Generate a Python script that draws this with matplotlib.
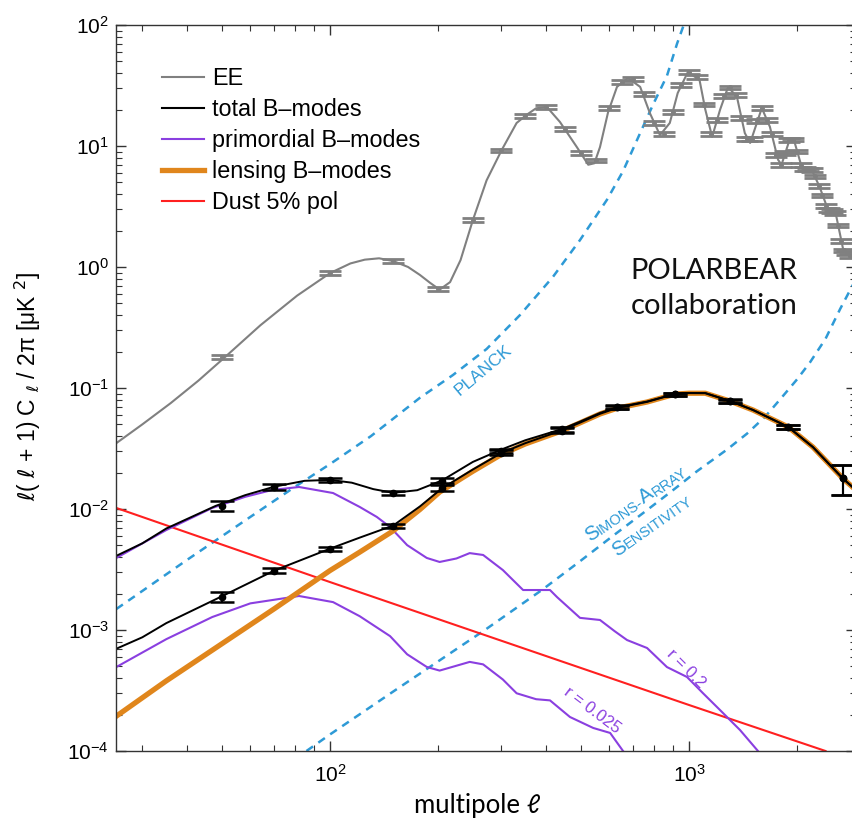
import numpy as np
import matplotlib.pyplot as plt
import matplotlib.transforms as mtransforms
from matplotlib.lines import Line2D
from matplotlib.ticker import NullFormatter, FixedLocator

plt.rcParams['font.family'] = ['Liberation Sans', 'DejaVu Sans']

# EE spectrum (smooth curve) and binned points every 50 in ell
ell_ee = [25.4, 30, 36, 43, 51, 64, 81, 100, 114, 125, 137, 150, 165, 178, 190, 202,
          216, 231, 250, 273, 301, 331, 352, 375, 402, 437, 487, 524, 545, 565, 595,
          630, 676, 731, 778, 830, 884, 930, 993, 1070, 1110, 1160, 1220, 1285, 1360,
          1430, 1480, 1545, 1595, 1680, 1770, 1810, 1910, 1960, 2060, 2200, 2310, 2440,
          2560, 2690, 2840, 2920]
ee_curve = [0.035, 0.050, 0.075, 0.115, 0.18, 0.33, 0.58, 0.89, 1.07, 1.15, 1.18, 1.12,
            1.0, 0.86, 0.74, 0.65, 0.75, 1.14, 2.44, 5.2, 9.3, 15.5, 18.0, 20.5, 21.0, 15.8,
            9.8, 7.0, 7.2, 9.8, 19, 30.8, 36.5, 30.8, 18.7, 12.3, 15.5, 27.4, 41, 35, 20,
            11.9, 19.9, 30.8, 25.4, 12.8, 10.6, 15.5, 20.6, 14.4, 7.7, 7.0, 11.5, 11.2, 6.7,
            6.3, 4.6, 2.96, 2.8, 1.38, 1.21, 1.1]
ee_bin_ell = np.arange(50, 2801, 50)
ee_bin_val = [0.18, 0.89, 1.12, 0.66, 2.44, 9.2, 17.8, 21, 13.8, 8.8, 7.6, 20.5, 34, 36,
              27, 15.5, 12.6, 19, 32, 41, 37, 22, 12.5, 16.5, 26, 30.5, 26.5, 17, 11.5,
              11.5, 16, 20.6, 16.5, 12.5, 8.4, 7.0, 8.8, 11.2, 11.3, 9.0, 7.0, 6.5, 6.4,
              6.3, 5.6, 4.7, 3.9, 3.2, 2.95, 2.9, 2.8, 2.2, 1.65, 1.37, 1.3, 1.23]

# lensing B-modes
lens_ell = [25.4, 35, 50, 70, 100, 121, 150, 178, 202, 250, 300, 350, 443, 497, 565, 630,
            764, 914, 1000, 1110, 1300, 1507, 1888, 2213, 2686, 2920]
lens = [0.000194, 0.00038, 0.00077, 0.0015, 0.0031, 0.0044, 0.0066, 0.0099, 0.0138, 0.0205,
        0.0282, 0.0345, 0.0443, 0.0515, 0.061, 0.068, 0.0766, 0.089, 0.0905, 0.0905, 0.078,
        0.0658, 0.0477, 0.0325, 0.0178, 0.0143]

# total B-modes, r = 0.2
tot_hi_ell = [25.4, 30, 35, 48, 58, 70, 85, 100, 115, 132, 150, 175, 205, 250, 300, 350,
              443, 497, 565, 630, 764, 914, 1000, 1110, 1300, 1507, 1888, 2213, 2686, 2920]
tot_hi = [0.0041, 0.0052, 0.0069, 0.0106, 0.0130, 0.0153, 0.0171, 0.0174, 0.0165, 0.0146,
          0.0136, 0.0143, 0.0172, 0.0245, 0.031, 0.037, 0.0458, 0.0527, 0.0622, 0.0692,
          0.0773, 0.0895, 0.091, 0.0908, 0.0782, 0.0659, 0.0477, 0.0325, 0.0178, 0.0143]

# total B-modes, r = 0.025
tot_lo_ell = [25.4, 30, 35, 50, 70, 100, 121, 150, 178, 205, 250, 300, 350, 443, 497, 565,
              630, 764, 914, 1000, 1110, 1300, 1507, 1888, 2213, 2686, 2920]
tot_lo = [0.0007, 0.00087, 0.00114, 0.0019, 0.0031, 0.0047, 0.0058, 0.0073, 0.0105, 0.0148,
          0.0212, 0.029, 0.035, 0.0447, 0.0517, 0.0612, 0.0684, 0.0768, 0.0892, 0.0907,
          0.0906, 0.0781, 0.0658, 0.0477, 0.0325, 0.0178, 0.0143]

# binned B-mode points
bb_bin_ell = [50, 70, 100, 150, 205, 300, 443, 630, 914, 1300, 1888, 2686]
bb_hi_val = [0.0106, 0.0152, 0.0174, 0.0136, 0.0172, 0.0300, 0.0455, 0.0697, 0.0891, 0.0782,
             0.0477, 0.018]
bb_lo_val = [0.00188, 0.0031, 0.0047, 0.0072, 0.0149, 0.0293, 0.0445, 0.0690, 0.0889, 0.078,
             0.0477, 0.018]
bb_err_frac = [0.09, 0.05, 0.04, 0.04, 0.05, 0.04, 0.04, 0.03, 0.03, 0.03, 0.04, 0.28]

# primordial B-modes
r02_ell = [25.4, 35, 47, 58, 69, 82, 102, 121, 135, 147, 164, 186, 202, 225, 245, 267, 303,
           345, 375, 410, 429, 497, 565, 620, 672, 764, 868, 987, 1093, 1220, 1387, 1556, 1700]
r02 = [0.00394, 0.0067, 0.0102, 0.0126, 0.01436, 0.0152, 0.01355, 0.0104, 0.0086, 0.0071,
       0.00503, 0.00394, 0.00365, 0.0039, 0.00432, 0.00417, 0.00313, 0.00214, 0.00214,
       0.00214, 0.00187, 0.00126, 0.00121, 0.00098, 0.000826, 0.00071, 0.000494, 0.000409,
       0.000301, 0.000218, 0.000149, 0.0001, 0.00007]
r0025_ell = [25.4, 35, 47, 60, 82, 102, 121, 147, 164, 186, 202, 245, 267, 303, 331, 375,
             410, 466, 541, 603, 655, 700]
r0025 = [0.000494, 0.00084, 0.00128, 0.00166, 0.00191, 0.0017, 0.0013, 0.00089, 0.00063,
         0.000495, 0.000462, 0.000545, 0.00052, 0.00039, 0.0003, 0.000268, 0.000262,
         0.000191, 0.000155, 0.000141, 0.0001, 0.00008]

# dust foreground
dust_ell = [25.4, 100, 1000, 2400]
dust = [0.0102, 0.00249, 0.00024, 0.0001]

# instrument noise curves
planck_ell = [25.4, 40, 60, 80, 100, 130, 178, 220, 273, 338, 418, 497, 591, 655, 731, 794,
              868, 926, 994, 1010]
planck = [0.00149, 0.0038, 0.0086, 0.0153, 0.0235, 0.040, 0.083, 0.128, 0.21, 0.40, 0.83,
          1.67, 3.6, 6.2, 12.8, 22, 38, 70, 126, 150]
simons_ell = [86, 100, 150, 200, 270, 390, 497, 614, 764, 902, 1052, 1276, 1451, 1630, 1790,
              2000, 2173, 2400, 2636, 2920]
simons = [1.0e-4, 1.37e-4, 3.1e-4, 5.5e-4, 1.0e-3, 2.15e-3, 3.7e-3, 6.0e-3, 9.8e-3, 0.0143,
          0.0205, 0.031, 0.042, 0.058, 0.080, 0.118, 0.163, 0.255, 0.45, 0.8]

x_major = [100, 1000]
y_major = [1e-4, 1e-3, 1e-2, 1e-1, 1e0, 1e1, 1e2]

c_ee = '#808080'
c_prim = '#8A3FE0'
c_lens = '#E0861C'
c_dust = '#FF2020'
c_noise = '#2E9AD6'

fig = plt.figure(figsize=(8.52, 8.21), dpi=100)
ax = fig.add_axes([116 / 852, 70 / 821, 740 / 852, 726 / 821])
ax.set_xscale('log')
ax.set_yscale('log')
ax.set_xlim(25.35, 2918)
ax.set_ylim(1e-4, 1e2)
ax.xaxis.set_major_locator(FixedLocator(x_major))
ax.yaxis.set_major_locator(FixedLocator(y_major))

dash = (0, (3.2, 2.6))
ax.plot(planck_ell, planck, color=c_noise, lw=1.8, ls=dash)
ax.plot(simons_ell, simons, color=c_noise, lw=1.8, ls=dash)
ax.plot(dust_ell, dust, color=c_dust, lw=1.5)
ax.plot(r02_ell, r02, color=c_prim, lw=1.5)
ax.plot(r0025_ell, r0025, color=c_prim, lw=1.5)
ax.plot(lens_ell, lens, color=c_lens, lw=3.8)
ax.plot(tot_lo_ell, tot_lo, color='k', lw=1.4)
ax.plot(tot_hi_ell, tot_hi, color='k', lw=1.4)
ax.plot(ell_ee, ee_curve, color=c_ee, lw=1.5)

ee_err = 0.035 * np.array(ee_bin_val)
ax.errorbar(ee_bin_ell, ee_bin_val, yerr=ee_err, fmt='.', ms=5, color=c_ee,
            capsize=8, capthick=2.0, elinewidth=1.5)
for vals in (bb_lo_val, bb_hi_val):
    err = np.array(bb_err_frac) * np.array(vals)
    ax.errorbar(bb_bin_ell, vals, yerr=err, fmt='o', ms=4.5, color='k',
                capsize=8.5, capthick=1.8, elinewidth=1.5)

for sp in ax.spines.values():
    sp.set_color('#333333')
    sp.set_linewidth(1.0)
ax.tick_params(which='both', direction='in', top=True, right=True, colors='#333333',
               labelcolor='k', labelsize=15)
ax.tick_params(which='major', length=7, width=1.0)
ax.tick_params(which='minor', length=4, width=0.8)
ax.tick_params(axis='x', pad=9)
ax.tick_params(axis='y', pad=5)
ax.xaxis.set_minor_formatter(NullFormatter())
ax.yaxis.set_minor_formatter(NullFormatter())

fig.text(477 / 852, 1 - 805 / 821, 'multipole ℓ', ha='center', va='center',
         fontsize=18.5, family=['Lato', 'DejaVu Sans'])
fig.text(28 / 852, 1 - 386 / 821, r'$\ell$( $\ell$ + 1) C $_{\ell}$ / 2π [μK $^{2}$]',
         rotation=90, ha='center', va='center', fontsize=16.5)

handles = [Line2D([], [], color=c_ee, lw=1.5),
           Line2D([], [], color='k', lw=1.5),
           Line2D([], [], color=c_prim, lw=1.5),
           Line2D([], [], color=c_lens, lw=3.8),
           Line2D([], [], color=c_dust, lw=1.5)]
labels = ['EE', 'total B\u2013modes', 'primordial B\u2013modes', 'lensing B\u2013modes',
          'Dust 5% pol']
ax.legend(handles, labels, loc='upper left', frameon=False, fontsize=16.8,
          bbox_to_anchor=(162 / 852, 1 - 67 / 821), bbox_transform=fig.transFigure,
          borderpad=0, borderaxespad=0, handlelength=1.8, handletextpad=0.33,
          labelspacing=0.34)

ax.text(0.808, 0.661, 'POLARBEAR', transform=ax.transAxes, ha='center', va='center',
        fontsize=21, family=['Lato', 'DejaVu Sans'], color='#111111')
ax.text(0.808, 0.613, 'collaboration', transform=ax.transAxes, ha='center', va='center',
        fontsize=21, family=['Lato', 'DejaVu Sans'], color='#111111')

ax.text(267, 0.141, 'PLANCK', color=c_noise, fontsize=12.5, rotation=40,
        ha='center', va='center')
ax.text(982, 0.00048, 'r = 0.2', color=c_prim, fontsize=12, rotation=-45,
        ha='center', va='center')
ax.text(537, 0.000218, 'r = 0.025', color=c_prim, fontsize=12, rotation=-37,
        ha='center', va='center')


def small_caps(x, y, pieces, angle, color):
    # lay out mixed-size pieces along a rotated baseline, in pixel space
    renderer = fig.canvas.get_renderer()
    x0, y0 = ax.transData.transform((x, y))
    th = np.deg2rad(angle)
    d = 0.0
    for s, size in pieces:
        probe = fig.text(0.5, 0.5, s, fontsize=size)
        w = probe.get_window_extent(renderer).width
        probe.remove()
        ax.text(x0 + d * np.cos(th), y0 + d * np.sin(th), s, fontsize=size, color=color,
                rotation=angle, rotation_mode='anchor', ha='left', va='baseline',
                transform=mtransforms.IdentityTransform())
        d += w


small_caps(530, 0.0053, [('S', 14.5), ('IMONS-', 10.5), ('A', 14.5), ('RRAY', 10.5)], 35,
           c_noise)
small_caps(630, 0.0040, [('S', 14.5), ('ENSITIVITY', 10.5)], 35, c_noise)

fig.savefig('out.png', dpi=100)
